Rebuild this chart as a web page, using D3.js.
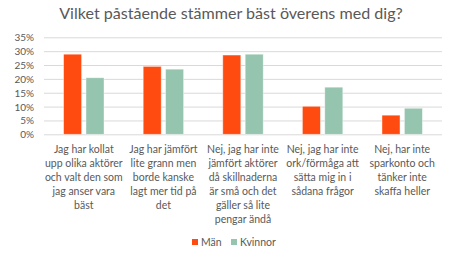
<!DOCTYPE html>
<html><head><meta charset="utf-8">
<script src="https://cdn.jsdelivr.net/npm/d3@7"></script>
<style>body{margin:0;background:#fff}svg{display:block}</style>
</head><body>
<script>
const title = "Vilket påstående stämmer bäst överens med dig?";
const categories = [
  ["Jag har kollat","upp olika aktörer","och valt den som","jag anser vara","bäst"],
  ["Jag har jämfört","lite grann men","borde kanske","lagt mer tid på","det"],
  ["Nej, jag har inte","jämfört aktörer","då skillnaderna","är små och det","gäller så lite","pengar ändå"],
  ["Nej, jag har inte","ork/förmåga att","sätta mig in i","sådana frågor"],
  ["Nej, har inte","sparkonto och","tänker inte","skaffa heller"]
];
const seriesNames = ["Män","Kvinnor"];
const man = [0.289, 0.245, 0.286, 0.101, 0.069];
const kvinnor = [0.204, 0.235, 0.289, 0.170, 0.094];
const yTicks = [0,0.05,0.10,0.15,0.20,0.25,0.30,0.35];
const colors = ["#FF4B0F","#95C4AF"];

const W=460,H=255;
const font = "Lato, 'Open Sans', sans-serif";
const svg = d3.select("body").append("svg").attr("width",W).attr("height",H);

const x = d3.scaleBand().domain(d3.range(categories.length)).range([44,442]).padding(0);
const xs = d3.scaleBand().domain(seriesNames).range([0,x.bandwidth()]).paddingInner(0.196).paddingOuter(0.875);
const y = d3.scaleLinear().domain([0,0.35]).range([134.3,37.3]);

svg.append("text").attr("x",231).attr("y",19).attr("text-anchor","middle")
  .attr("font-family",font).attr("font-size",16.1).attr("fill","#595959").text(title);

const yAxis = d3.axisLeft(y).tickValues(yTicks).tickFormat(d3.format(".0%")).tickSize(-(442-44)).tickPadding(10);
const ga = svg.append("g").attr("transform","translate(44,0)").call(yAxis);
ga.select(".domain").remove();
ga.selectAll(".tick line").attr("stroke","#D9D9D9").attr("stroke-width",1);
ga.selectAll(".tick text").attr("font-family",font).attr("font-size",10).attr("fill","#595959").attr("dy","0.35em");

const data = [man,kvinnor];
seriesNames.forEach((s,si)=>{
  svg.append("g").selectAll("rect").data(data[si]).join("rect")
    .attr("x",(d,i)=>x(i)+xs(s)).attr("width",xs.bandwidth())
    .attr("y",d=>y(d)).attr("height",d=>y(0)-y(d))
    .attr("fill",colors[si]).attr("stroke","#ffffff").attr("stroke-opacity",0.5).attr("stroke-width",0.8);
});

const gx = svg.append("g");
categories.forEach((lines,i)=>{
  const t = gx.append("text").attr("text-anchor","middle").attr("font-family",font)
    .attr("font-size",10.5).attr("fill","#595959");
  lines.forEach((l,j)=>{
    t.append("tspan").attr("x",x(i)+x.bandwidth()/2).attr("y",153+j*14).text(l);
  });
});

const legX = [192,231];
seriesNames.forEach((s,i)=>{
  svg.append("rect").attr("x",legX[i]).attr("y",239).attr("width",6).attr("height",6).attr("fill",colors[i]);
  svg.append("text").attr("x",legX[i]+9).attr("y",246).attr("font-family",font).attr("font-size",10.5)
    .attr("fill","#595959").text(s);
});
</script>
</body></html>
